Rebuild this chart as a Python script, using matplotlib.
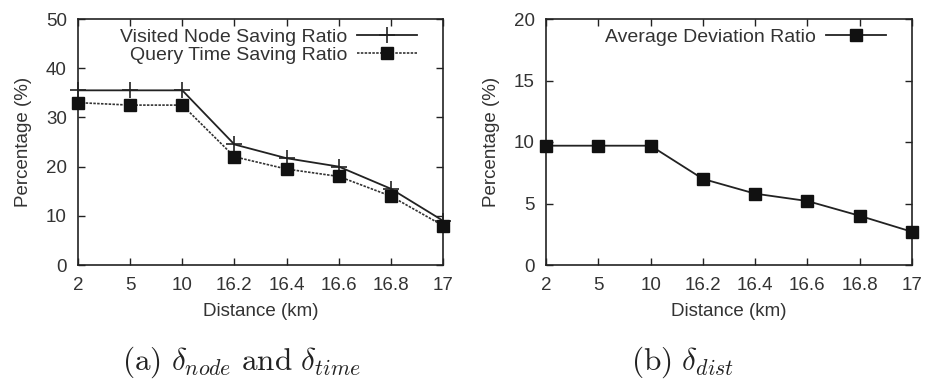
import matplotlib
matplotlib.use("Agg")
import matplotlib.pyplot as plt

categories = ["2", "5", "10", "16.2", "16.4", "16.6", "16.8", "17"]
visited_node = [35.5, 35.5, 35.5, 24.5, 21.7, 20.0, 15.5, 9.0]
query_time = [33.0, 32.5, 32.5, 22.0, 19.5, 18.0, 14.0, 8.0]
avg_deviation = [9.7, 9.7, 9.7, 7.0, 5.8, 5.2, 4.0, 2.7]

plt.rcParams['font.family'] = ['Liberation Sans', 'DejaVu Sans']
plt.rcParams['mathtext.fontset'] = 'cm'
txt = '#333333'

fig = plt.figure(figsize=(9.25, 3.83), dpi=100)
W, H = 925, 383
ax1 = fig.add_axes([78 / W, 1 - 265 / H, (443 - 78) / W, (265 - 19) / H])
ax2 = fig.add_axes([546 / W, 1 - 265 / H, (912 - 546) / W, (265 - 19) / H])

x = list(range(len(categories)))

ax1.plot(x, visited_node, color='#222222', lw=1.3, marker='+', ms=11, mew=1.2,
         label='Visited Node Saving Ratio', clip_on=False, zorder=3)
ax1.plot(x, query_time, color='#333333', lw=1.2, ls=(0, (1.5, 0.8)), marker='s', ms=8,
         mfc='#111111', mec='#111111', label='Query Time Saving Ratio', clip_on=False, zorder=3)
ax1.set_ylim(0, 50)
ax1.set_yticks([0, 10, 20, 30, 40, 50])

ax2.plot(x, avg_deviation, color='#222222', lw=1.3, marker='s', ms=8,
         mfc='#111111', mec='#111111', label='Average Deviation Ratio', clip_on=False, zorder=3)
ax2.set_ylim(0, 20)
ax2.set_yticks([0, 5, 10, 15, 20])

for ax in (ax1, ax2):
    ax.set_xlim(0, len(categories) - 1)
    ax.set_xticks(x)
    ax.set_xticklabels(categories)
    ax.tick_params(direction='in', top=True, right=True, length=5, width=1,
                   labelsize=13.5, colors='#222222', labelcolor=txt)
    ax.tick_params(axis='x', pad=9)
    ax.tick_params(axis='y', pad=8)
    for s in ax.spines.values():
        s.set_linewidth(1.2)
        s.set_color('#222222')
    ax.set_xlabel('Distance (km)', fontsize=13.5, color=txt, labelpad=6)
    ax.set_ylabel('Percentage (%)', fontsize=13.5, color=txt, labelpad=10)
    ax.legend(loc='upper right', frameon=False, markerfirst=False, fontsize=14,
              handlelength=3.1, handletextpad=0.5, labelspacing=0.05,
              borderaxespad=0.0, borderpad=0.2, labelcolor=txt,
              bbox_to_anchor=(1 - 22 / 366, 1 - 5 / 246))

fig.text(241 / W, 1 - 362 / H, r'$\mathrm{(a)}\ \delta_{node}\ \mathrm{and}\ \delta_{time}$',
         fontsize=22.5, ha='center', va='center', color='#222222')
fig.text(683 / W, 1 - 362 / H, r'$\mathrm{(b)}\ \delta_{dist}$',
         fontsize=22.5, ha='center', va='center', color='#222222')

fig.savefig('out.png', dpi=100)
